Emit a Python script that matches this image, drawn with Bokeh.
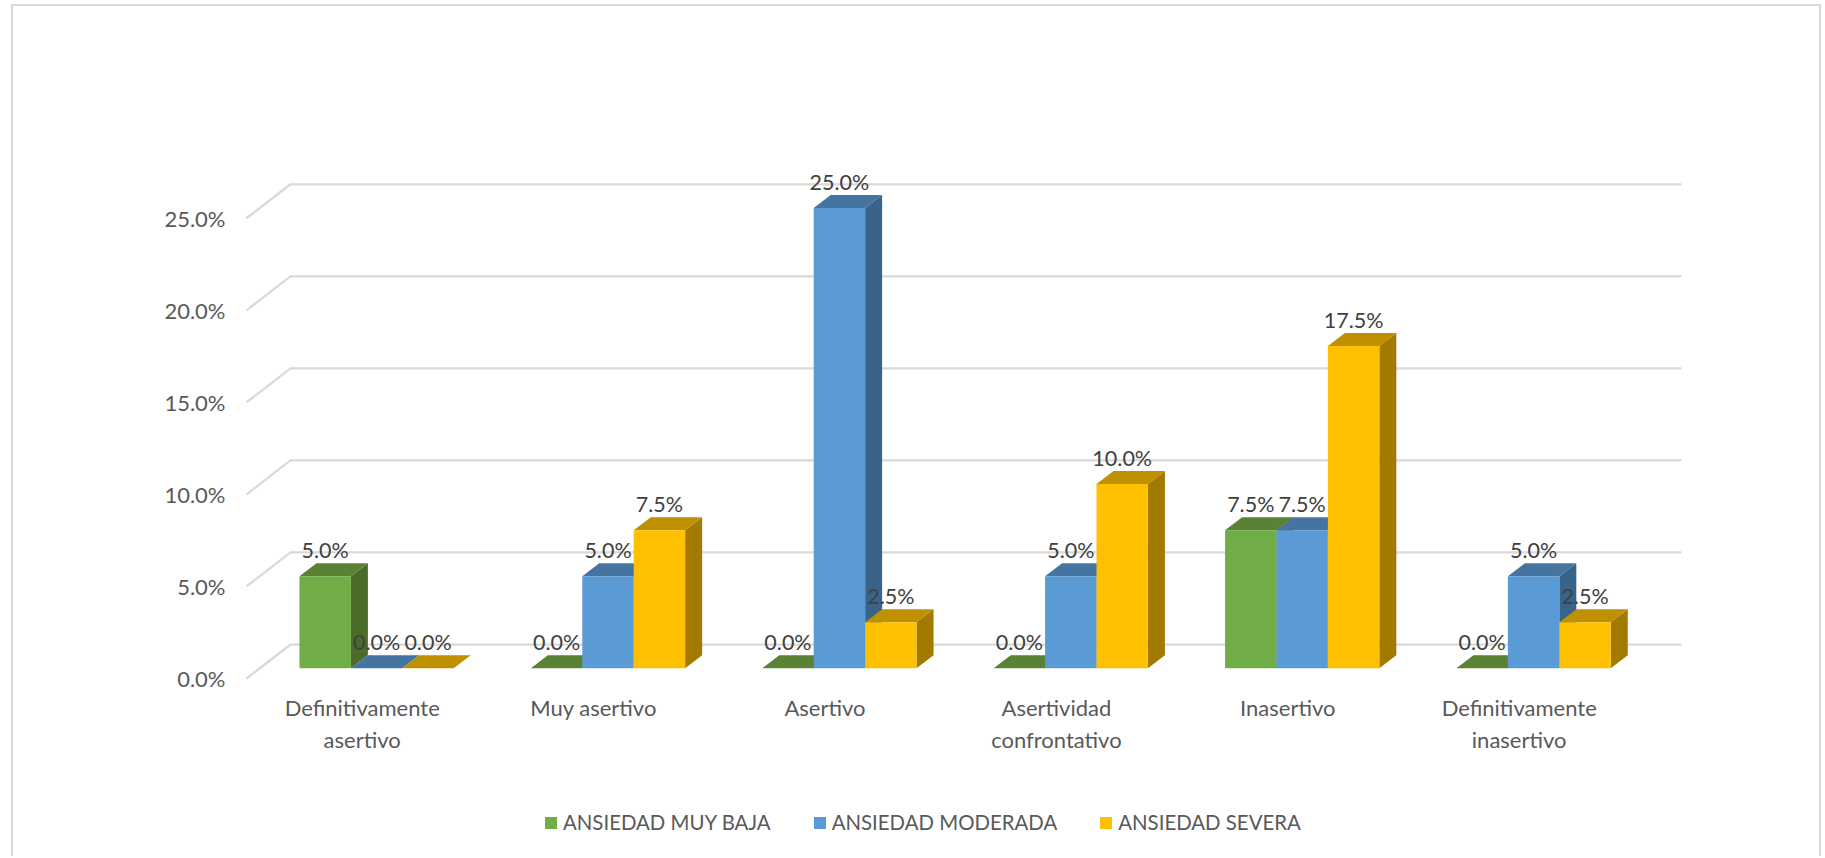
from bokeh.plotting import figure
from bokeh.layouts import column
from bokeh.models import (LinearAxis, FixedTicker, Legend, LegendItem, Range1d)
from bokeh.core.properties import value
from bokeh.embed import file_html
from bokeh.resources import INLINE

categories = ["Definitivamente\nasertivo", "Muy asertivo", "Asertivo",
              "Asertividad\nconfrontativo", "Inasertivo", "Definitivamente\ninasertivo"]
series_names = ["ANSIEDAD MUY BAJA", "ANSIEDAD MODERADA", "ANSIEDAD SEVERA"]
muy_baja = [5.0, 0.0, 0.0, 0.0, 7.5, 0.0]
moderada = [0.0, 5.0, 25.0, 5.0, 7.5, 5.0]
severa = [0.0, 7.5, 2.5, 10.0, 17.5, 2.5]
y_ticks = [0, 5, 10, 15, 20, 25]
y_labels = ["0.0%", "5.0%", "10.0%", "15.0%", "20.0%", "25.0%"]

front_colors = ["#70AD47", "#5B9BD5", "#FFC000"]
top_colors = ["#5A8234", "#44749F", "#BF9000"]
side_colors = ["#4A6B2A", "#3A638A", "#A27A00"]
GREY = "#595959"
FONT = "Lato"

# layout: canvas origin on the page, then sizes
OX, OY = 13, 6
W, H = 1810, 790
LEG_H = 62
F_LEFT, F_TOP, F_W, F_H = 240 - OX, 150 - OY, 1460, 536
XU, YU = 231.4, 18.41            # pixels per category / per percentage point
X0_PAD = 6                       # frame left to front-plane start
Y0_PAD = 8                       # frame bottom to front-plane zero
PLANE_DX, PLANE_DY = 44 / XU, 34 / YU      # depth of the wall
GRID_END = 1435 / XU                       # right end of the back wall
BAR_DX, BAR_DY = 14.4 / XU, 10.3 / YU      # front of bars relative to floor front
DEPTH_DX, DEPTH_DY = 17 / XU, 13 / YU      # depth of a bar
BAR_W = 1 / 4.5
GAP = BAR_W * 0.75
BORDER = "2px solid #D9D9D9"

p = figure(width=W, height=H, output_backend="svg", toolbar_location=None,
           x_axis_type=None, y_axis_type=None,
           x_range=Range1d(-X0_PAD / XU, (F_W - X0_PAD) / XU),
           y_range=Range1d(-Y0_PAD / YU, (F_H - Y0_PAD) / YU),
           min_border_left=F_LEFT, min_border_right=W - F_LEFT - F_W,
           min_border_top=F_TOP, min_border_bottom=H - F_TOP - F_H,
           background_fill_color=None, border_fill_color="white", outline_line_color=None)
p.grid.visible = False
p.styles = {"margin-left": "11px", "margin-top": "4px", "border-left": BORDER,
            "border-top": BORDER, "border-right": BORDER}

# axes
yax = LinearAxis(ticker=FixedTicker(ticks=y_ticks),
                 major_label_overrides={t: l for t, l in zip(y_ticks, y_labels)},
                 axis_line_color=None, major_tick_line_color=None, minor_tick_line_color=None,
                 major_label_text_color=GREY, major_label_text_font=FONT,
                 major_label_text_font_size="22px", major_label_standoff=9)
p.add_layout(yax, "left")
x_ticks = [i + 0.5 for i in range(len(categories))]
xax = LinearAxis(ticker=FixedTicker(ticks=x_ticks),
                 major_label_overrides={t: l for t, l in zip(x_ticks, categories)},
                 axis_line_color=None, major_tick_line_color=None, minor_tick_line_color=None,
                 major_label_text_color=GREY, major_label_text_font=FONT,
                 major_label_text_font_size="22px", major_label_standoff=1)
p.add_layout(xax, "below")

# gridlines: diagonal on the side wall, then along the back wall
n = len(categories)
p.multi_line(xs=[[0, PLANE_DX, GRID_END] for _ in y_ticks],
             ys=[[t, t + PLANE_DY, t + PLANE_DY] for t in y_ticks],
             line_color="#D9D9D9", line_width=2.25)

# bars
lab_x, lab_y, lab_t = [], [], []
for i in range(n):
    for k, vals in enumerate((muy_baja, moderada, severa)):
        v = vals[i]
        x0 = i + GAP + k * BAR_W + BAR_DX
        x1 = x0 + BAR_W
        y0 = BAR_DY
        y1 = y0 + v
        p.patch([x1, x1 + DEPTH_DX, x1 + DEPTH_DX, x1], [y0, y0 + DEPTH_DY, y1 + DEPTH_DY, y1],
                fill_color=side_colors[k], line_color=None)
        p.patch([x0, x1, x1 + DEPTH_DX, x0 + DEPTH_DX], [y1, y1, y1 + DEPTH_DY, y1 + DEPTH_DY],
                fill_color=top_colors[k], line_color=None)
        p.quad(left=[x0], right=[x1], bottom=[y0], top=[y1],
               fill_color=front_colors[k], line_color=None)
        lab_x.append((x0 + x1) / 2)
        lab_y.append(y1)
        lab_t.append(f"{v:.1f}%")

p.text(x=lab_x, y=lab_y, text=lab_t, text_align="center", text_baseline="middle", y_offset=-26,
       text_color="#404040", text_font=value(FONT), text_font_size="21.5px")

# legend strip below the plot, inside the same chart frame
q = figure(width=W, height=LEG_H, output_backend="svg", toolbar_location=None,
           x_axis_type=None, y_axis_type=None, x_range=Range1d(0, 1), y_range=Range1d(0, 1),
           min_border=0, background_fill_color=None, border_fill_color="white",
           outline_line_color=None)
q.grid.visible = False
q.styles = {"margin-left": "11px", "border-left": BORDER, "border-right": BORDER}
items = []
for k, name in enumerate(series_names):
    # the strip's range stops at 1: these quads only lend the legend its swatches
    r = q.quad(left=[2], right=[3], bottom=[2], top=[3], fill_color=front_colors[k], line_color=None)
    items.append(LegendItem(label=name, renderers=[r]))
legend = Legend(items=items, orientation="horizontal", location=(303, 22),
                spacing=41, label_standoff=5, glyph_width=15, glyph_height=15,
                padding=0, margin=0, border_line_color=None, background_fill_color=None,
                background_fill_alpha=0, label_text_color=GREY, label_text_font=FONT,
                label_text_font_size="20.4px")
q.add_layout(legend, "center")

page = column(p, q, spacing=0)
open("out.html", "w").write(file_html(page, INLINE))
